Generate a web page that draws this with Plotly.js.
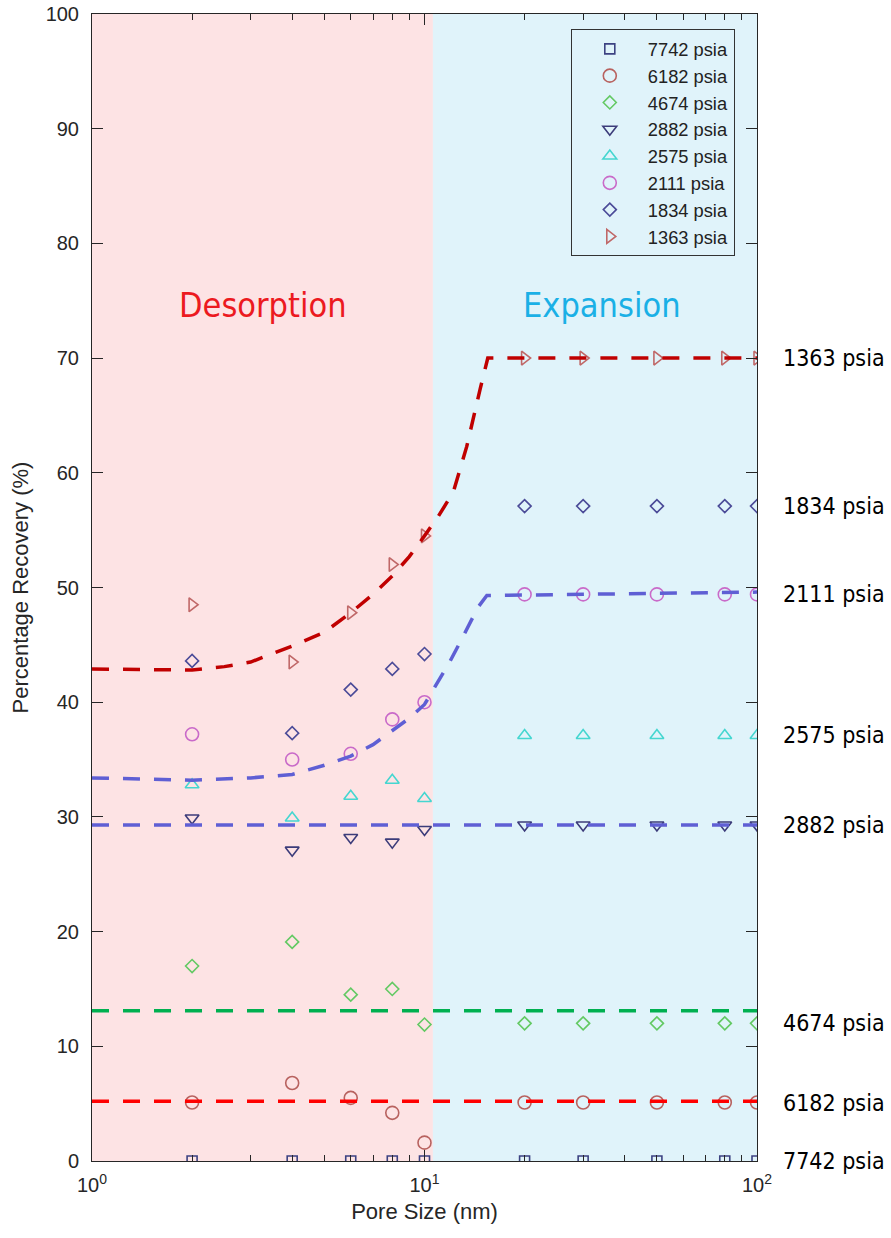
<!DOCTYPE html>
<html>
<head>
<meta charset="utf-8">
<script src="https://cdn.plot.ly/plotly-3.0.1.min.js"></script>
<style>html,body{margin:0;padding:0;background:#fff;}#chart{width:891px;height:1238px;}</style>
</head>
<body>
<div id="chart"></div>
<script>
// ---- data ----
const poreSize = [2, 4, 6, 8, 10, 20, 30, 50, 80, 100];
const seriesNames = ['7742 psia', '6182 psia', '4674 psia', '2882 psia', '2575 psia', '2111 psia', '1834 psia', '1363 psia'];
const rec7742 = [0, 0, 0, 0, 0, 0, 0, 0, 0, 0];
const rec6182 = [5.1, 6.8, 5.5, 4.2, 1.6, 5.1, 5.1, 5.1, 5.1, 5.1];
const rec4674 = [17.0, 19.1, 14.5, 15.0, 11.9, 12.0, 12.0, 12.0, 12.0, 12.0];
const rec2882 = [29.9, 27.1, 28.2, 27.8, 28.9, 29.3, 29.3, 29.3, 29.3, 29.3];
const rec2575 = [32.8, 29.9, 31.8, 33.2, 31.6, 37.1, 37.1, 37.1, 37.1, 37.1];
const rec2111 = [37.2, 35.0, 35.5, 38.5, 40.0, 49.4, 49.4, 49.4, 49.4, 49.4];
const rec1834 = [43.6, 37.3, 41.1, 42.9, 44.2, 57.1, 57.1, 57.1, 57.1, 57.1];
const rec1363 = [48.5, 43.5, 47.8, 52.0, 54.5, 70.0, 70.0, 70.0, 70.0, 70.0];

// dashed trend lines
const fit1363X = [1, 1.5, 2, 2.5, 3, 4, 5, 6, 7, 8, 9, 10, 11, 12.2, 13.4, 14.7, 15.5, 100];
const fit1363Y = [42.9, 42.8, 42.8, 43.1, 43.5, 44.9, 46.1, 47.8, 49.4, 51.0, 52.7, 54.5, 56.2, 58.3, 62.3, 67.3, 70.0, 70.0];
const fit2111X = [1, 2, 3, 4, 5, 6, 7, 8, 9, 10, 11, 11.9, 13.05, 14.5, 15.4, 100];
const fit2111Y = [33.4, 33.2, 33.4, 33.7, 34.5, 35.3, 36.3, 37.5, 38.6, 39.8, 41.8, 43.5, 45.7, 48.3, 49.3, 49.6];
const fit2882X = [1, 100];
const fit2882Y = [29.3, 29.3];
const fit4674X = [1, 100];
const fit4674Y = [13.1, 13.1];
const fit6182X = [1, 100];
const fit6182Y = [5.2, 5.2];

// axis ticks
const xMajorTicks = [1, 10, 100];
const xMajorText = ['10<sup>0</sup>', '10<sup>1</sup>', '10<sup>2</sup>'];
const xMinorTicks = [2, 3, 4, 5, 6, 7, 8, 9, 20, 30, 40, 50, 60, 70, 80, 90];

// region split (pore size) and region labels
const regionBounds = [1, 10.6, 100];
const regionNames = ['Desorption', 'Expansion'];

// ---- styles ----
const recs = [rec7742, rec6182, rec4674, rec2882, rec2575, rec2111, rec1834, rec1363];
const symbols = ['square-open', 'circle-open', 'diamond-open', 'triangle-down-open', 'triangle-up-open', 'circle-open', 'diamond-open', 'triangle-right-open'];
const colors = ['#3c4282', '#b8625f', '#63c963', '#3c3c7a', '#45d6d0', '#c96ac9', '#4b4b98', '#c06868'];
const sizes = [10, 13, 10, 12, 12, 13, 10, 12];

const traces = [];
recs.forEach((r, i) => {
  traces.push({
    x: poreSize, y: r, type: 'scatter', mode: 'markers', name: seriesNames[i],
    marker: {symbol: symbols[i], size: sizes[i], color: colors[i], line: {width: 1.6, color: colors[i]}},
    hoverinfo: 'x+y+name'
  });
});
const fits = [
  [fit1363X, fit1363Y, '#c00000'],
  [fit2111X, fit2111Y, '#5f5fd4'],
  [fit2882X, fit2882Y, '#5f5fd4'],
  [fit4674X, fit4674Y, '#00b050'],
  [fit6182X, fit6182Y, '#ff0000']
];
fits.forEach(f => {
  traces.push({x: f[0], y: f[1], type: 'scatter', mode: 'lines', showlegend: false,
    line: {color: f[2], width: 3.5, dash: '17px,14px'}, hoverinfo: 'skip'});
});

const axisColor = '#262626';
const tickFont = {family: 'Liberation Sans, Arial, sans-serif', size: 20, color: axisColor};

const annotations = [];
recs.forEach((r, i) => {
  annotations.push({
    xref: 'paper', x: 1, xanchor: 'left', xshift: 24,
    yref: 'y', y: r[r.length - 1], yanchor: 'middle',
    text: seriesNames[i], showarrow: false,
    font: {family: 'DejaVu Sans Condensed, DejaVu Sans, sans-serif', size: 23, color: '#000'}
  });
});
annotations.push({xref: 'paper', x: 0.257, yref: 'y', y: 74.6, text: regionNames[0], showarrow: false,
  xanchor: 'center', yanchor: 'middle',
  font: {family: 'DejaVu Sans Condensed, DejaVu Sans, sans-serif', size: 34, color: '#ec1a1f'}});
annotations.push({xref: 'paper', x: 0.767, yref: 'y', y: 74.6, text: regionNames[1], showarrow: false,
  xanchor: 'center', yanchor: 'middle',
  font: {family: 'DejaVu Sans Condensed, DejaVu Sans, sans-serif', size: 34, color: '#1ab0e6'}});

const shapes = [
  {type: 'rect', xref: 'x', yref: 'paper', x0: regionBounds[0], x1: regionBounds[1], y0: 0, y1: 1,
   fillcolor: '#fde3e4', line: {width: 0}, layer: 'below'},
  {type: 'rect', xref: 'x', yref: 'paper', x0: regionBounds[1], x1: regionBounds[2], y0: 0, y1: 1,
   fillcolor: '#e0f3fa', line: {width: 0}, layer: 'below'}
];

const layout = {
  width: 891, height: 1238,
  margin: {l: 92, r: 134, t: 14, b: 77, pad: 0},
  paper_bgcolor: '#ffffff', plot_bgcolor: '#ffffff',
  showlegend: true,
  legend: {
    x: 0.72, xanchor: 'left', y: 0.9865, yanchor: 'top',
    bgcolor: 'rgba(0,0,0,0)', bordercolor: '#333', borderwidth: 1,
    font: {family: 'Liberation Sans, Arial, sans-serif', size: 18.3, color: '#222'},
    itemwidth: 66, traceorder: 'normal'
  },
  xaxis: {
    type: 'log', range: [0, 2],
    tickmode: 'array', tickvals: xMajorTicks, ticktext: xMajorText,
    ticks: 'inside', ticklen: 11, tickwidth: 1, tickcolor: axisColor,
    minor: {tickmode: 'array', tickvals: xMinorTicks, ticks: 'inside', ticklen: 6, tickwidth: 1, tickcolor: axisColor, showgrid: false},
    showline: true, linecolor: axisColor, linewidth: 1, mirror: 'ticks',
    showgrid: false, zeroline: false, tickfont: tickFont, ticklabelstandoff: 6,
    title: {text: 'Pore Size (nm)', font: {family: 'Liberation Sans, Arial, sans-serif', size: 22, color: axisColor}, standoff: 8}
  },
  yaxis: {
    range: [0, 100], dtick: 10, tick0: 0,
    ticks: 'inside', ticklen: 11, tickwidth: 1, tickcolor: axisColor,
    showline: true, linecolor: axisColor, linewidth: 1, mirror: 'ticks',
    showgrid: false, zeroline: false, tickfont: tickFont, ticklabelstandoff: 8,
    title: {text: 'Percentage Recovery (%)', font: {family: 'Liberation Sans, Arial, sans-serif', size: 22, color: axisColor}, standoff: 10}
  },
  shapes: shapes,
  annotations: annotations
};

Plotly.newPlot('chart', traces, layout, {displayModeBar: false, staticPlot: true});
</script>
</body>
</html>
